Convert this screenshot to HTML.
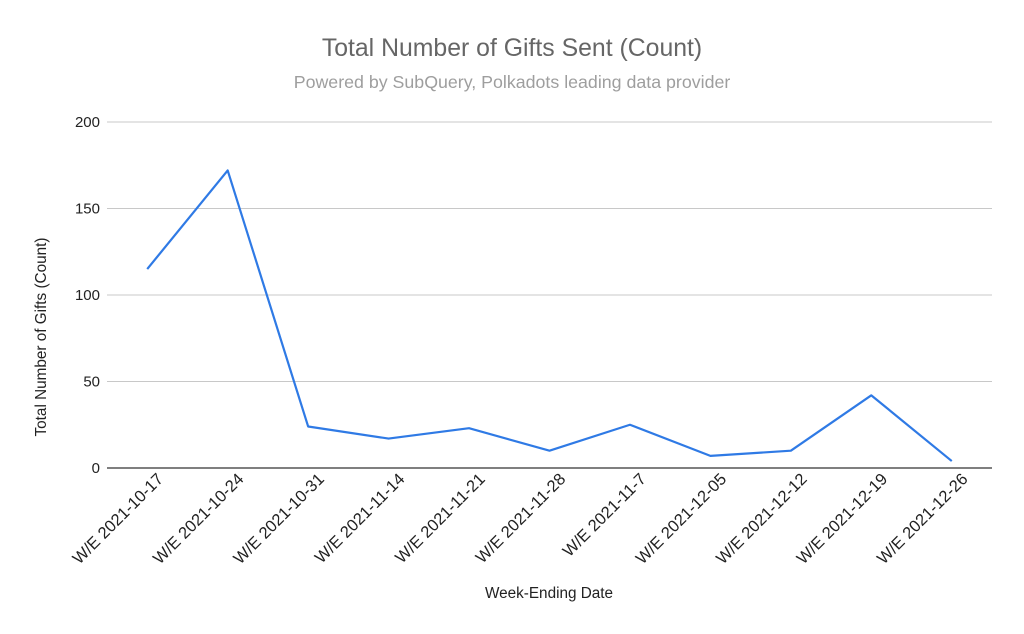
<!DOCTYPE html>
<html><head><meta charset="utf-8"><style>
body{margin:0;background:#fff;}
svg{display:block;font-family:"Liberation Sans",Arial,sans-serif;}
</style></head><body>
<svg id="chart" width="1024" height="634">
<text x="512" y="56" text-anchor="middle" font-size="24.8" fill="#666">Total Number of Gifts Sent (Count)</text>
<text x="512" y="88" text-anchor="middle" font-size="17.8" fill="#9e9e9e">Powered by SubQuery, Polkadots leading data provider</text>
<text transform="translate(46,337) rotate(-90)" text-anchor="middle" font-size="15.3" fill="#222">Total Number of Gifts (Count)</text>
<text x="549" y="598" text-anchor="middle" font-size="15.3" fill="#222">Week-Ending Date</text>
<g id="grid"></g><g id="xlabels"></g><g id="series"></g>
</svg>
<script>
const categories=["W/E 2021-10-17","W/E 2021-10-24","W/E 2021-10-31","W/E 2021-11-14","W/E 2021-11-21","W/E 2021-11-28","W/E 2021-11-7","W/E 2021-12-05","W/E 2021-12-12","W/E 2021-12-19","W/E 2021-12-26"];
const gifts=[115,172,24,17,23,10,25,7,10,42,4];
const yTicks=[0,50,100,150,200];
const NS="http://www.w3.org/2000/svg";
const L=107,R=992,T=122,B=468,yMax=200;
const band=(R-L)/categories.length;
const xs=i=>L+band*(i+0.5);
const ys=v=>B-(v/yMax)*(B-T);
function mk(t,a,p){const e=document.createElementNS(NS,t);for(const k in a)e.setAttribute(k,a[k]);p.appendChild(e);return e;}
const grid=document.getElementById('grid');
yTicks.forEach(v=>{
 const l=mk('line',{x1:L,x2:R,y1:ys(v),y2:ys(v),stroke:v===0?'#333':'#c8c8c8','stroke-width':v===0?1.3:1},grid);
 
 
 const t=mk('text',{x:L-7,y:ys(v)+5,'text-anchor':'end','font-size':15,fill:'#222'},grid);
 t.textContent=v;
 
 
});
const xl=document.getElementById('xlabels');
categories.forEach((c,i)=>{
 const x=xs(i)+17,y=480;
 const t=mk('text',{x:x,y:y,'text-anchor':'end','font-size':16.5,fill:'#222',transform:`rotate(-45 ${x} ${y})`},xl);
 t.textContent=c;
 
 
});
const s=document.getElementById('series');
const p=mk('polyline',{points:gifts.map((v,i)=>xs(i)+','+ys(v)).join(' '),fill:'none',stroke:'#2f7ae5','stroke-width':2.2,'stroke-linejoin':'round'},s);


</script>
</body></html>
